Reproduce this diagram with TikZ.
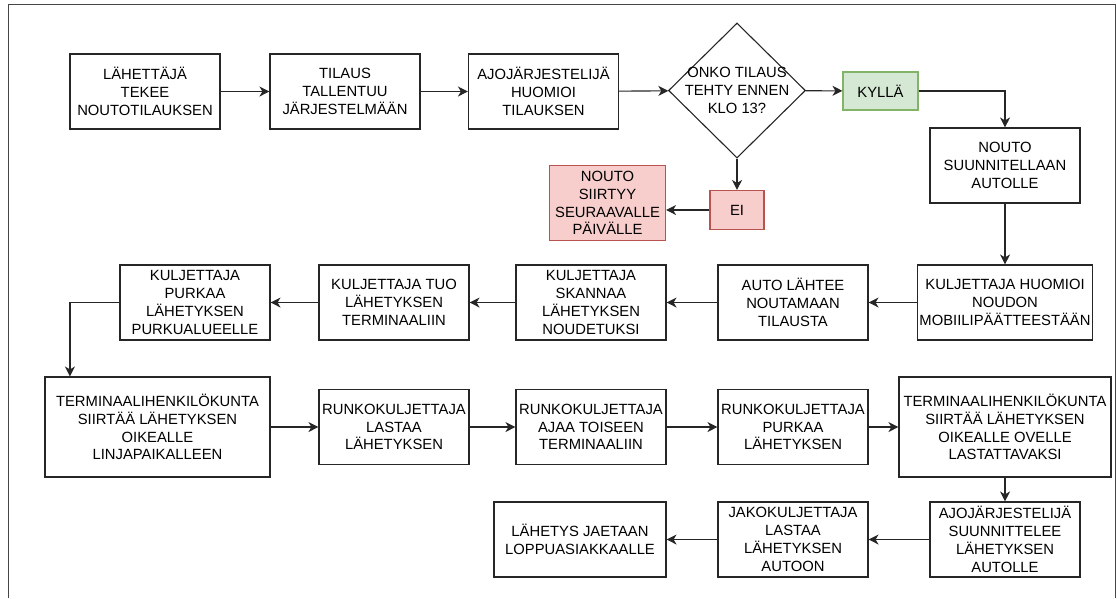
\documentclass[tikz,border=0pt]{standalone}
\usepackage{fontspec}
\setmainfont{Liberation Sans}
\usepackage{tikz}
\usetikzlibrary{positioning, calc, arrows.meta, shapes.geometric}

\begin{document}
\begin{tikzpicture}[x=1pt, y=-1pt,
        laatikko/.style={draw=black!85, line width=1.1pt, fill=white, align=center, inner sep=0pt,
            minimum width=150pt, minimum height=75pt, font=\fontsize{14.8}{17.8}\selectfont},
        nuoli/.style={draw=black!85, line width=1.1pt, -{Stealth[length=10pt, width=10pt, inset=3pt]}}]
        % Värit
        \definecolor{vihrea}{HTML}{D5E8D4}
        \definecolor{vihreareuna}{HTML}{82B366}
        \definecolor{punainen}{HTML}{F8CECC}
        \definecolor{punainenreuna}{HTML}{B85450}
        \definecolor{kehys}{RGB}{70, 70, 70}

        \useasboundingbox (0,0) rectangle (1117,598);

        % Kehys
        \draw[kehys, line width=1pt] (8,598) -- (8,4) -- (1115,4) -- (1115,598);

        % 1. Tilaus ja päätös
        \node[laatikko] (lahettaja) at (145, 91.5) {LÄHETTÄJÄ\\TEKEE\\NOUTOTILAUKSEN};
        \node[laatikko] (tilaus) at (345, 91.5) {TILAUS\\TALLENTUU\\JÄRJESTELMÄÄN};
        \node[laatikko] (ajojarj) at (543.5, 91.5) {AJOJÄRJESTELIJÄ\\HUOMIOI\\TILAUKSEN};
        \node[laatikko, diamond, inner sep=-4pt, minimum width=137pt, minimum height=135pt] (onko) at (737, 90.5) {ONKO TILAUS\\TEHTY ENNEN\\KLO 13?};
        \node[laatikko, fill=vihrea, draw=vihreareuna, minimum width=75pt, minimum height=38pt] (kylla) at (880.5, 91) {KYLLÄ};
        \node[laatikko, fill=punainen, draw=punainenreuna, minimum width=54pt, minimum height=39pt] (ei) at (737, 210) {EI};
        \node[laatikko, fill=punainen, draw=punainenreuna, minimum width=116pt] (siirtyy) at (607.5, 203) {NOUTO\\SIIRTYY\\SEURAAVALLE\\PÄIVÄLLE};
        \node[laatikko] (nouto) at (1005, 165.5) {NOUTO\\SUUNNITELLAAN\\AUTOLLE};

        \foreach \a/\b in {lahettaja/tilaus, tilaus/ajojarj, ajojarj/onko, onko/kylla}
            \draw[nuoli] (\a) -- (\b);
        \draw[nuoli] (kylla.east) -| (nouto.north);
        \draw[nuoli] (onko.south) -- (ei.north);
        \draw[nuoli] (ei.west) -- (ei.west -| siirtyy.east);

        % 2. Nouto terminaaliin
        \node[laatikko, minimum width=175pt] (huomioi) at (1005, 302.5) {KULJETTAJA HUOMIOI\\NOUDON\\MOBIILIPÄÄTTEESTÄÄN};
        \node[laatikko] (auto) at (793, 302.5) {AUTO LÄHTEE\\NOUTAMAAN\\TILAUSTA};
        \node[laatikko] (skannaa) at (591, 302.5) {KULJETTAJA\\SKANNAA\\LÄHETYKSEN\\NOUDETUKSI};
        \node[laatikko] (tuo) at (394, 302.5) {KULJETTAJA TUO\\LÄHETYKSEN\\TERMINAALIIN};
        \node[laatikko] (purkaa) at (195, 302.5) {KULJETTAJA\\PURKAA\\LÄHETYKSEN\\PURKUALUEELLE};

        \draw[nuoli] (nouto) -- (huomioi);
        \foreach \a/\b in {huomioi/auto, auto/skannaa, skannaa/tuo, tuo/purkaa}
            \draw[nuoli] (\a) -- (\b);

        % 3. Runkokuljetus
        \node[laatikko, minimum width=225pt, minimum height=100pt] (terminaali) at (157.5, 427) {TERMINAALIHENKILÖKUNTA\\SIIRTÄÄ LÄHETYKSEN\\OIKEALLE\\LINJAPAIKALLEEN};
        \node[laatikko] (lastaa) at (394, 427) {RUNKOKULJETTAJA\\LASTAA\\LÄHETYKSEN};
        \node[laatikko] (ajaa) at (591, 427) {RUNKOKULJETTAJA\\AJAA TOISEEN\\TERMINAALIIN};
        \node[laatikko] (rpurkaa) at (793, 427) {RUNKOKULJETTAJA\\PURKAA\\LÄHETYKSEN};
        \node[laatikko, minimum width=212pt, minimum height=100pt] (ovelle) at (1005, 427) {TERMINAALIHENKILÖKUNTA\\SIIRTÄÄ LÄHETYKSEN\\OIKEALLE OVELLE\\LASTATTAVAKSI};

        \draw[nuoli] (purkaa.west) -| ([xshift=25.5pt]terminaali.north west);
        \foreach \a/\b in {terminaali/lastaa, lastaa/ajaa, ajaa/rpurkaa, rpurkaa/ovelle}
            \draw[nuoli] (\a) -- (\b);

        % 4. Jakelu
        \node[laatikko] (suunnittelee) at (1005, 539.5) {AJOJÄRJESTELIJÄ\\SUUNNITTELEE\\LÄHETYKSEN\\AUTOLLE};
        \node[laatikko] (jako) at (793, 539.5) {JAKOKULJETTAJA\\LASTAA\\LÄHETYKSEN\\AUTOON};
        \node[laatikko, minimum width=172pt] (jaetaan) at (580, 539.5) {LÄHETYS JAETAAN\\LOPPUASIAKKAALLE};

        \draw[nuoli] (ovelle) -- (suunnittelee);
        \foreach \a/\b in {suunnittelee/jako, jako/jaetaan}
            \draw[nuoli] (\a) -- (\b);

    \end{tikzpicture}
\end{document}
